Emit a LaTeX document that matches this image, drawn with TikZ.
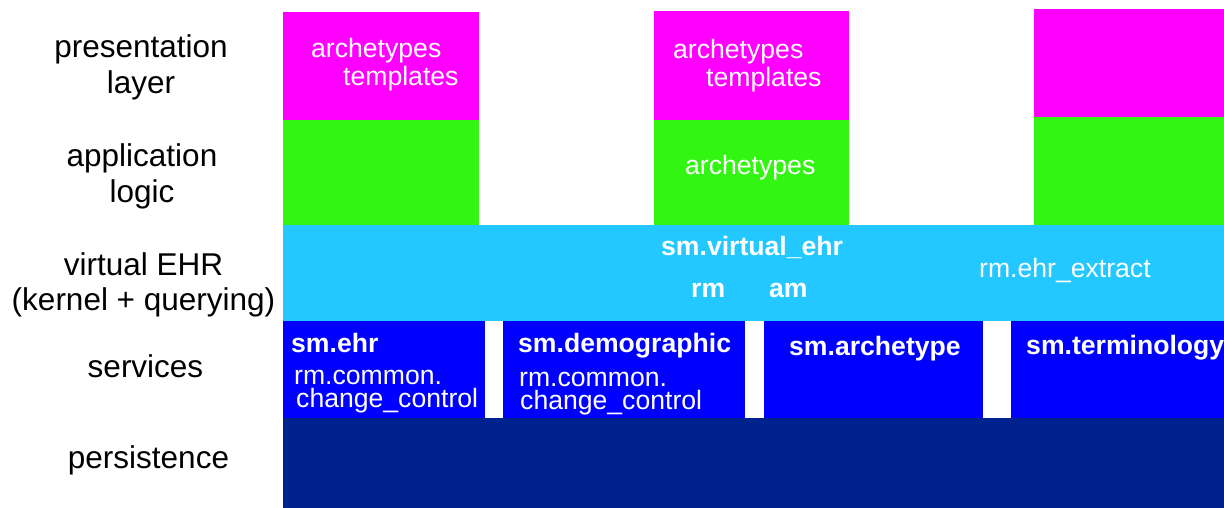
\documentclass[tikz,border=0pt]{standalone}
\usepackage{fontspec}
\setmainfont{Liberation Sans}
\definecolor{cmag}{HTML}{FF00FF}
\definecolor{cgreen}{HTML}{33F512}
\definecolor{ccyan}{HTML}{22C8FF}
\definecolor{cblue}{HTML}{0000FF}
\definecolor{cnavy}{HTML}{00228F}
\begin{document}
\begin{tikzpicture}[x=1pt,y=-1pt,
  lbl/.style={inner sep=0pt,anchor=base,font=\fontsize{31.5}{36}\selectfont,text=black},
  wt/.style={inner sep=0pt,anchor=base west,font=\fontsize{26.6}{30}\selectfont,text=white},
  wb/.style={wt,font=\fontsize{26.6}{30}\selectfont\bfseries}]
\useasboundingbox (0,0) rectangle (1224,508);
% presentation layer
\fill[cmag] (283,12) rectangle (479,120);
\fill[cmag] (654,11) rectangle (849,120);
\fill[cmag] (1034,9) rectangle (1224,117);
% application logic
\fill[cgreen] (283,120) rectangle (479,225.5);
\fill[cgreen] (654,120) rectangle (849,225.5);
\fill[cgreen] (1034,117) rectangle (1224,225.5);
% virtual EHR
\fill[ccyan] (283,225) rectangle (1224,321);
% services
\fill[cblue] (283,321) rectangle (485,418);
\fill[cblue] (503,321) rectangle (745,418);
\fill[cblue] (764,321) rectangle (983,418);
\fill[cblue] (1011,321) rectangle (1224,418);
% persistence
\fill[cnavy] (283,418) rectangle (1224,508);
% left labels
\node[lbl] (l1a) at (141,58) {presentation};
\node[lbl] (l1b) at (141,94) {layer};
\node[lbl] (l2a) at (142,167) {application};
\node[lbl] (l2b) at (142,202) {logic};
\node[lbl] (l3a) at (143.5,275) {virtual EHR};
\node[lbl] (l3b) at (143.5,310) {(kernel + querying)};
\node[lbl] (l4) at (145.5,377) {services};
\node[lbl] (l5) at (148.5,468) {persistence};
% texts in boxes
\node[wt] (p1a) at (311,58) {archetypes};
\node[wt] (p1b) at (343,86) {templates};
\node[wt] (p2a) at (673,59) {archetypes};
\node[wt] (p2b) at (706,87) {templates};
\node[wt] (a2) at (685,175) {archetypes};
\node[wb] (vehr) at (661,255) {sm.virtual\_ehr};
\node[wb] (rm) at (691,297) {rm};
\node[wb] (am) at (769,297) {am};
\node[wt] (extr) at (979,277) {rm.ehr\_extract};
\node[wb] (sehr) at (291,352) {sm.ehr};
\node[wt] (cc1a) at (294,384) {rm.common.};
\node[wt] (cc1b) at (296,407) {change\_control};
\node[wb] (sdem) at (518,352) {sm.demographic};
\node[wt] (cc2a) at (519,386) {rm.common.};
\node[wt] (cc2b) at (520,409) {change\_control};
\node[wb] (sarch) at (789,355) {sm.archetype};
\node[wb] (sterm) at (1026,354) {sm.terminology};
\end{tikzpicture}
\end{document}
